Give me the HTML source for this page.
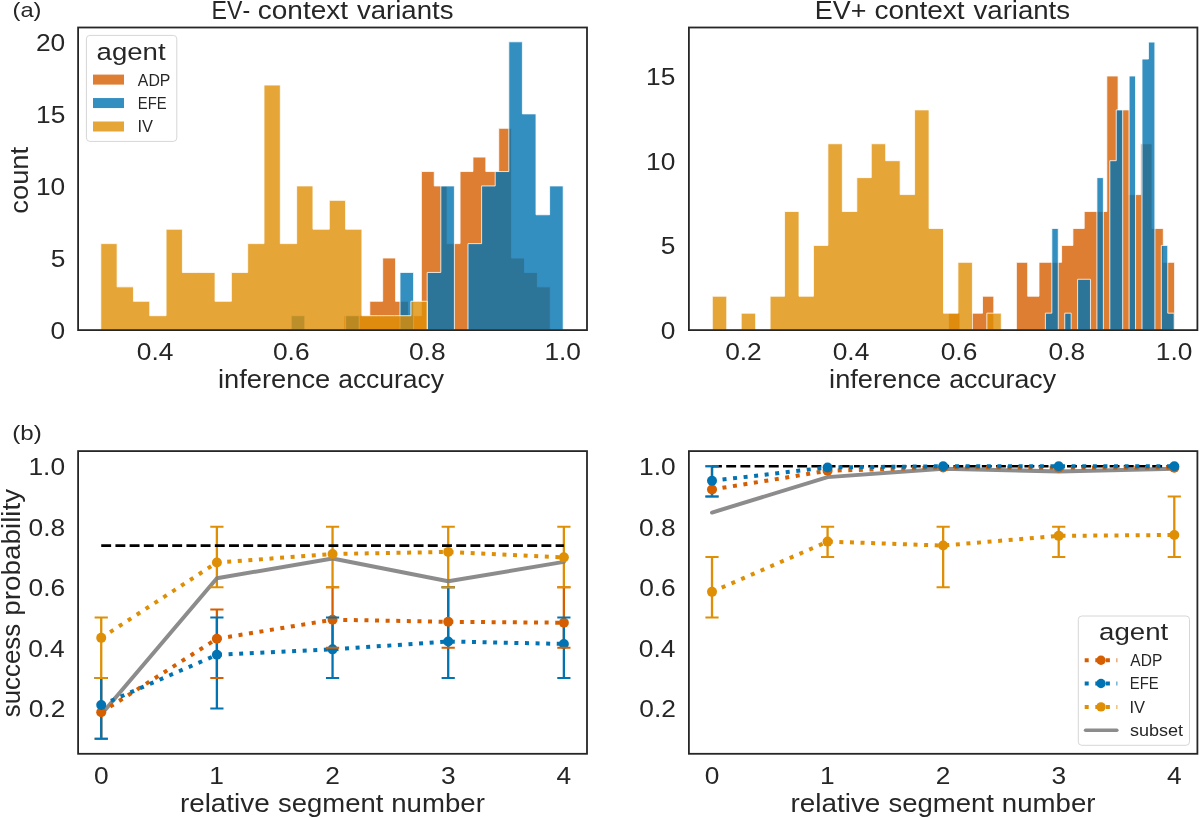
<!DOCTYPE html>
<html><head><meta charset="utf-8"><style>
html,body{margin:0;padding:0;background:#fff;}
svg{display:block;}
text{font-family:"Liberation Sans", sans-serif;font-kerning:none;}
</style></head><body>
<svg width="1200" height="818" viewBox="0 0 1200 818">
<rect width="1200" height="818" fill="#fff"/>
<defs>
<clipPath id="c1"><rect x="78.1" y="27.5" width="508.90" height="302.60"/></clipPath>
<clipPath id="c2"><rect x="688.9" y="27.5" width="508.50" height="302.60"/></clipPath>
<clipPath id="c3"><rect x="78.1" y="451.1" width="508.90" height="302.70"/></clipPath>
<clipPath id="c4"><rect x="688.9" y="451.1" width="508.50" height="302.70"/></clipPath>
</defs>
<g clip-path="url(#c1)">
<path d="M344.00,330.10 L344.00,315.69 L356.89,315.69 L356.89,315.69 L369.79,315.69 L369.79,301.27 L382.68,301.27 L382.68,258.03 L395.58,258.03 L395.58,301.27 L408.47,301.27 L408.47,315.69 L421.36,315.69 L421.36,171.54 L434.26,171.54 L434.26,185.95 L447.15,185.95 L447.15,243.61 L460.05,243.61 L460.05,171.54 L472.94,171.54 L472.94,157.12 L485.83,157.12 L485.83,171.54 L498.73,171.54 L498.73,128.29 L511.62,128.29 L511.62,258.03 L524.52,258.03 L524.52,272.44 L537.41,272.44 L537.41,286.86 L550.30,286.86 L550.30,330.10Z" fill="#d55e00" fill-opacity="0.8" stroke="none"/>
<path d="M344.00,330.10 L344.00,315.69 L356.89,315.69 L356.89,315.69 L369.79,315.69 L369.79,301.27 L382.68,301.27 L382.68,258.03 L395.58,258.03 L395.58,301.27 L408.47,301.27 L408.47,315.69 L421.36,315.69 L421.36,171.54 L434.26,171.54 L434.26,185.95 L447.15,185.95 L447.15,243.61 L460.05,243.61 L460.05,171.54 L472.94,171.54 L472.94,157.12 L485.83,157.12 L485.83,171.54 L498.73,171.54 L498.73,128.29 L511.62,128.29 L511.62,258.03 L524.52,258.03 L524.52,272.44 L537.41,272.44 L537.41,286.86 L550.30,286.86 L550.30,330.10Z" fill="none" stroke="#fff" stroke-opacity="0.8" stroke-width="1.0"/>
<path d="M291.20,330.10 L291.20,315.69 L304.80,315.69 L304.80,330.10Z" fill="#0173b2" fill-opacity="0.8" stroke="none"/>
<path d="M291.20,330.10 L291.20,315.69 L304.80,315.69 L304.80,330.10Z" fill="none" stroke="#fff" stroke-opacity="0.8" stroke-width="1.0"/>
<path d="M345.60,330.10 L345.60,315.69 L359.20,315.69 L359.20,330.10Z" fill="#0173b2" fill-opacity="0.8" stroke="none"/>
<path d="M345.60,330.10 L345.60,315.69 L359.20,315.69 L359.20,330.10Z" fill="none" stroke="#fff" stroke-opacity="0.8" stroke-width="1.0"/>
<path d="M400.00,330.10 L400.00,272.44 L413.60,272.44 L413.60,330.10Z" fill="#0173b2" fill-opacity="0.8" stroke="none"/>
<path d="M400.00,330.10 L400.00,272.44 L413.60,272.44 L413.60,330.10Z" fill="none" stroke="#fff" stroke-opacity="0.8" stroke-width="1.0"/>
<path d="M427.20,330.10 L427.20,272.44 L440.80,272.44 L440.80,185.95 L454.40,185.95 L454.40,330.10Z" fill="#0173b2" fill-opacity="0.8" stroke="none"/>
<path d="M427.20,330.10 L427.20,272.44 L440.80,272.44 L440.80,185.95 L454.40,185.95 L454.40,330.10Z" fill="none" stroke="#fff" stroke-opacity="0.8" stroke-width="1.0"/>
<path d="M468.00,330.10 L468.00,243.61 L481.60,243.61 L481.60,185.95 L495.20,185.95 L495.20,171.54 L508.80,171.54 L508.80,41.80 L522.40,41.80 L522.40,113.88 L536.00,113.88 L536.00,214.78 L549.60,214.78 L549.60,185.95 L563.20,185.95 L563.20,330.10Z" fill="#0173b2" fill-opacity="0.8" stroke="none"/>
<path d="M468.00,330.10 L468.00,243.61 L481.60,243.61 L481.60,185.95 L495.20,185.95 L495.20,171.54 L508.80,171.54 L508.80,41.80 L522.40,41.80 L522.40,113.88 L536.00,113.88 L536.00,214.78 L549.60,214.78 L549.60,185.95 L563.20,185.95 L563.20,330.10Z" fill="none" stroke="#fff" stroke-opacity="0.8" stroke-width="1.0"/>
<path d="M100.80,330.10 L100.80,243.61 L117.12,243.61 L117.12,286.86 L133.44,286.86 L133.44,301.27 L149.76,301.27 L149.76,315.69 L166.08,315.69 L166.08,229.20 L182.40,229.20 L182.40,272.44 L198.72,272.44 L198.72,272.44 L215.04,272.44 L215.04,301.27 L231.36,301.27 L231.36,272.44 L247.68,272.44 L247.68,243.61 L264.00,243.61 L264.00,85.05 L280.32,85.05 L280.32,243.61 L296.64,243.61 L296.64,185.95 L312.96,185.95 L312.96,229.20 L329.28,229.20 L329.28,200.37 L345.60,200.37 L345.60,229.20 L361.92,229.20 L361.92,315.69 L378.24,315.69 L378.24,315.69 L394.56,315.69 L394.56,315.69 L410.88,315.69 L410.88,301.27 L427.20,301.27 L427.20,330.10Z" fill="#de8f05" fill-opacity="0.8" stroke="none"/>
<path d="M100.80,330.10 L100.80,243.61 L117.12,243.61 L117.12,286.86 L133.44,286.86 L133.44,301.27 L149.76,301.27 L149.76,315.69 L166.08,315.69 L166.08,229.20 L182.40,229.20 L182.40,272.44 L198.72,272.44 L198.72,272.44 L215.04,272.44 L215.04,301.27 L231.36,301.27 L231.36,272.44 L247.68,272.44 L247.68,243.61 L264.00,243.61 L264.00,85.05 L280.32,85.05 L280.32,243.61 L296.64,243.61 L296.64,185.95 L312.96,185.95 L312.96,229.20 L329.28,229.20 L329.28,200.37 L345.60,200.37 L345.60,229.20 L361.92,229.20 L361.92,315.69 L378.24,315.69 L378.24,315.69 L394.56,315.69 L394.56,315.69 L410.88,315.69 L410.88,301.27 L427.20,301.27 L427.20,330.10Z" fill="none" stroke="#fff" stroke-opacity="0.8" stroke-width="1.0"/>
</g>
<g clip-path="url(#c2)">
<path d="M948.60,330.10 L948.60,313.16 L959.90,313.16 L959.90,330.10Z" fill="#d55e00" fill-opacity="0.8" stroke="none"/>
<path d="M948.60,330.10 L948.60,313.16 L959.90,313.16 L959.90,330.10Z" fill="none" stroke="#fff" stroke-opacity="0.8" stroke-width="1.0"/>
<path d="M971.20,330.10 L971.20,313.16 L982.50,313.16 L982.50,296.22 L993.80,296.22 L993.80,330.10Z" fill="#d55e00" fill-opacity="0.8" stroke="none"/>
<path d="M971.20,330.10 L971.20,313.16 L982.50,313.16 L982.50,296.22 L993.80,296.22 L993.80,330.10Z" fill="none" stroke="#fff" stroke-opacity="0.8" stroke-width="1.0"/>
<path d="M1016.40,330.10 L1016.40,262.34 L1027.70,262.34 L1027.70,296.22 L1039.00,296.22 L1039.00,262.34 L1050.30,262.34 L1050.30,262.34 L1061.60,262.34 L1061.60,245.40 L1072.90,245.40 L1072.90,228.46 L1084.20,228.46 L1084.20,211.52 L1095.50,211.52 L1095.50,211.52 L1106.80,211.52 L1106.80,76.00 L1118.10,76.00 L1118.10,109.88 L1129.40,109.88 L1129.40,194.58 L1140.70,194.58 L1140.70,143.76 L1152.00,143.76 L1152.00,228.46 L1163.30,228.46 L1163.30,262.34 L1174.60,262.34 L1174.60,330.10Z" fill="#d55e00" fill-opacity="0.8" stroke="none"/>
<path d="M1016.40,330.10 L1016.40,262.34 L1027.70,262.34 L1027.70,296.22 L1039.00,296.22 L1039.00,262.34 L1050.30,262.34 L1050.30,262.34 L1061.60,262.34 L1061.60,245.40 L1072.90,245.40 L1072.90,228.46 L1084.20,228.46 L1084.20,211.52 L1095.50,211.52 L1095.50,211.52 L1106.80,211.52 L1106.80,76.00 L1118.10,76.00 L1118.10,109.88 L1129.40,109.88 L1129.40,194.58 L1140.70,194.58 L1140.70,143.76 L1152.00,143.76 L1152.00,228.46 L1163.30,228.46 L1163.30,262.34 L1174.60,262.34 L1174.60,330.10Z" fill="none" stroke="#fff" stroke-opacity="0.8" stroke-width="1.0"/>
<path d="M1045.40,330.10 L1045.40,313.16 L1051.84,313.16 L1051.84,228.46 L1058.28,228.46 L1058.28,330.10Z" fill="#0173b2" fill-opacity="0.8" stroke="none"/>
<path d="M1045.40,330.10 L1045.40,313.16 L1051.84,313.16 L1051.84,228.46 L1058.28,228.46 L1058.28,330.10Z" fill="none" stroke="#fff" stroke-opacity="0.8" stroke-width="1.0"/>
<path d="M1064.72,330.10 L1064.72,313.16 L1071.16,313.16 L1071.16,330.10Z" fill="#0173b2" fill-opacity="0.8" stroke="none"/>
<path d="M1064.72,330.10 L1064.72,313.16 L1071.16,313.16 L1071.16,330.10Z" fill="none" stroke="#fff" stroke-opacity="0.8" stroke-width="1.0"/>
<path d="M1077.60,330.10 L1077.60,279.28 L1084.04,279.28 L1084.04,279.28 L1090.48,279.28 L1090.48,330.10Z" fill="#0173b2" fill-opacity="0.8" stroke="none"/>
<path d="M1077.60,330.10 L1077.60,279.28 L1084.04,279.28 L1084.04,279.28 L1090.48,279.28 L1090.48,330.10Z" fill="none" stroke="#fff" stroke-opacity="0.8" stroke-width="1.0"/>
<path d="M1096.92,330.10 L1096.92,177.64 L1103.36,177.64 L1103.36,330.10Z" fill="#0173b2" fill-opacity="0.8" stroke="none"/>
<path d="M1096.92,330.10 L1096.92,177.64 L1103.36,177.64 L1103.36,330.10Z" fill="none" stroke="#fff" stroke-opacity="0.8" stroke-width="1.0"/>
<path d="M1109.80,330.10 L1109.80,160.70 L1116.24,160.70 L1116.24,109.88 L1122.68,109.88 L1122.68,330.10Z" fill="#0173b2" fill-opacity="0.8" stroke="none"/>
<path d="M1109.80,330.10 L1109.80,160.70 L1116.24,160.70 L1116.24,109.88 L1122.68,109.88 L1122.68,330.10Z" fill="none" stroke="#fff" stroke-opacity="0.8" stroke-width="1.0"/>
<path d="M1129.12,330.10 L1129.12,76.00 L1135.56,76.00 L1135.56,330.10Z" fill="#0173b2" fill-opacity="0.8" stroke="none"/>
<path d="M1129.12,330.10 L1129.12,76.00 L1135.56,76.00 L1135.56,330.10Z" fill="none" stroke="#fff" stroke-opacity="0.8" stroke-width="1.0"/>
<path d="M1142.00,330.10 L1142.00,59.06 L1148.44,59.06 L1148.44,42.12 L1154.88,42.12 L1154.88,330.10Z" fill="#0173b2" fill-opacity="0.8" stroke="none"/>
<path d="M1142.00,330.10 L1142.00,59.06 L1148.44,59.06 L1148.44,42.12 L1154.88,42.12 L1154.88,330.10Z" fill="none" stroke="#fff" stroke-opacity="0.8" stroke-width="1.0"/>
<path d="M1161.32,330.10 L1161.32,245.40 L1167.76,245.40 L1167.76,313.16 L1174.20,313.16 L1174.20,330.10Z" fill="#0173b2" fill-opacity="0.8" stroke="none"/>
<path d="M1161.32,330.10 L1161.32,245.40 L1167.76,245.40 L1167.76,313.16 L1174.20,313.16 L1174.20,330.10Z" fill="none" stroke="#fff" stroke-opacity="0.8" stroke-width="1.0"/>
<path d="M712.30,330.10 L712.30,296.22 L726.75,296.22 L726.75,330.10Z" fill="#de8f05" fill-opacity="0.8" stroke="none"/>
<path d="M712.30,330.10 L712.30,296.22 L726.75,296.22 L726.75,330.10Z" fill="none" stroke="#fff" stroke-opacity="0.8" stroke-width="1.0"/>
<path d="M741.20,330.10 L741.20,313.16 L755.65,313.16 L755.65,330.10Z" fill="#de8f05" fill-opacity="0.8" stroke="none"/>
<path d="M741.20,330.10 L741.20,313.16 L755.65,313.16 L755.65,330.10Z" fill="none" stroke="#fff" stroke-opacity="0.8" stroke-width="1.0"/>
<path d="M770.10,330.10 L770.10,296.22 L784.55,296.22 L784.55,211.52 L799.00,211.52 L799.00,296.22 L813.45,296.22 L813.45,245.40 L827.90,245.40 L827.90,143.76 L842.35,143.76 L842.35,211.52 L856.80,211.52 L856.80,177.64 L871.25,177.64 L871.25,143.76 L885.70,143.76 L885.70,160.70 L900.15,160.70 L900.15,194.58 L914.60,194.58 L914.60,109.88 L929.05,109.88 L929.05,228.46 L943.50,228.46 L943.50,313.16 L957.95,313.16 L957.95,262.34 L972.40,262.34 L972.40,330.10Z" fill="#de8f05" fill-opacity="0.8" stroke="none"/>
<path d="M770.10,330.10 L770.10,296.22 L784.55,296.22 L784.55,211.52 L799.00,211.52 L799.00,296.22 L813.45,296.22 L813.45,245.40 L827.90,245.40 L827.90,143.76 L842.35,143.76 L842.35,211.52 L856.80,211.52 L856.80,177.64 L871.25,177.64 L871.25,143.76 L885.70,143.76 L885.70,160.70 L900.15,160.70 L900.15,194.58 L914.60,194.58 L914.60,109.88 L929.05,109.88 L929.05,228.46 L943.50,228.46 L943.50,313.16 L957.95,313.16 L957.95,262.34 L972.40,262.34 L972.40,330.10Z" fill="none" stroke="#fff" stroke-opacity="0.8" stroke-width="1.0"/>
<path d="M986.85,330.10 L986.85,313.16 L1001.30,313.16 L1001.30,330.10Z" fill="#de8f05" fill-opacity="0.8" stroke="none"/>
<path d="M986.85,330.10 L986.85,313.16 L1001.30,313.16 L1001.30,330.10Z" fill="none" stroke="#fff" stroke-opacity="0.8" stroke-width="1.0"/>
</g>
<g clip-path="url(#c3)">
<line x1="101.23" y1="678.12" x2="101.23" y2="738.66" stroke="#d55e00" stroke-width="2.3"/>
<line x1="216.89" y1="609.41" x2="216.89" y2="678.12" stroke="#d55e00" stroke-width="2.3"/>
<line x1="332.55" y1="587.32" x2="332.55" y2="647.86" stroke="#d55e00" stroke-width="2.3"/>
<line x1="448.21" y1="587.32" x2="448.21" y2="647.86" stroke="#d55e00" stroke-width="2.3"/>
<line x1="563.87" y1="587.32" x2="563.87" y2="647.86" stroke="#d55e00" stroke-width="2.3"/>
<line x1="101.23" y1="678.12" x2="101.23" y2="738.66" stroke="#0173b2" stroke-width="2.3"/>
<line x1="216.89" y1="617.59" x2="216.89" y2="708.39" stroke="#0173b2" stroke-width="2.3"/>
<line x1="332.55" y1="617.59" x2="332.55" y2="678.12" stroke="#0173b2" stroke-width="2.3"/>
<line x1="448.21" y1="587.32" x2="448.21" y2="678.12" stroke="#0173b2" stroke-width="2.3"/>
<line x1="563.87" y1="617.59" x2="563.87" y2="678.12" stroke="#0173b2" stroke-width="2.3"/>
<line x1="101.23" y1="617.59" x2="101.23" y2="678.12" stroke="#de8f05" stroke-width="2.3"/>
<line x1="216.89" y1="526.77" x2="216.89" y2="587.32" stroke="#de8f05" stroke-width="2.3"/>
<line x1="332.55" y1="526.77" x2="332.55" y2="587.32" stroke="#de8f05" stroke-width="2.3"/>
<line x1="448.21" y1="526.77" x2="448.21" y2="587.32" stroke="#de8f05" stroke-width="2.3"/>
<line x1="563.87" y1="526.77" x2="563.87" y2="587.32" stroke="#de8f05" stroke-width="2.3"/>
<path d="M101.23,714.45 L216.89,578.23 L332.55,558.56 L448.21,581.26 L563.87,561.89" fill="none" stroke="#808080" stroke-opacity="0.9" stroke-width="4.0" stroke-linecap="round" stroke-linejoin="round"/>
<line x1="101.23" y1="545.54" x2="563.87" y2="545.54" stroke="#000" stroke-width="2.7" stroke-dasharray="9.9 4.3"/>
<path d="M101.23,712.33 L216.89,638.77 L332.55,619.70 L448.21,621.82 L563.87,622.73" fill="none" stroke="#d55e00" stroke-width="4.0" stroke-dasharray="4.00 6.60" stroke-linecap="butt" stroke-linejoin="round"/>
<circle cx="101.23" cy="712.33" r="5.0" fill="#d55e00"/>
<circle cx="216.89" cy="638.77" r="5.0" fill="#d55e00"/>
<circle cx="332.55" cy="619.70" r="5.0" fill="#d55e00"/>
<circle cx="448.21" cy="621.82" r="5.0" fill="#d55e00"/>
<circle cx="563.87" cy="622.73" r="5.0" fill="#d55e00"/>
<path d="M101.23,705.07 L216.89,654.82 L332.55,649.37 L448.21,641.50 L563.87,643.92" fill="none" stroke="#0173b2" stroke-width="4.0" stroke-dasharray="4.00 6.60" stroke-linecap="butt" stroke-linejoin="round"/>
<circle cx="101.23" cy="705.07" r="5.0" fill="#0173b2"/>
<circle cx="216.89" cy="654.82" r="5.0" fill="#0173b2"/>
<circle cx="332.55" cy="649.37" r="5.0" fill="#0173b2"/>
<circle cx="448.21" cy="641.50" r="5.0" fill="#0173b2"/>
<circle cx="563.87" cy="643.92" r="5.0" fill="#0173b2"/>
<path d="M101.23,637.87 L216.89,562.49 L332.55,554.02 L448.21,551.90 L563.87,557.35" fill="none" stroke="#de8f05" stroke-width="4.0" stroke-dasharray="4.00 6.60" stroke-linecap="butt" stroke-linejoin="round"/>
<circle cx="101.23" cy="637.87" r="5.0" fill="#de8f05"/>
<circle cx="216.89" cy="562.49" r="5.0" fill="#de8f05"/>
<circle cx="332.55" cy="554.02" r="5.0" fill="#de8f05"/>
<circle cx="448.21" cy="551.90" r="5.0" fill="#de8f05"/>
<circle cx="563.87" cy="557.35" r="5.0" fill="#de8f05"/>
<line x1="94.63" y1="678.12" x2="107.83" y2="678.12" stroke="#d55e00" stroke-width="2.0"/>
<line x1="94.63" y1="738.66" x2="107.83" y2="738.66" stroke="#d55e00" stroke-width="2.0"/>
<line x1="210.29" y1="609.41" x2="223.49" y2="609.41" stroke="#d55e00" stroke-width="2.0"/>
<line x1="210.29" y1="678.12" x2="223.49" y2="678.12" stroke="#d55e00" stroke-width="2.0"/>
<line x1="325.95" y1="587.32" x2="339.15" y2="587.32" stroke="#d55e00" stroke-width="2.0"/>
<line x1="325.95" y1="647.86" x2="339.15" y2="647.86" stroke="#d55e00" stroke-width="2.0"/>
<line x1="441.61" y1="587.32" x2="454.81" y2="587.32" stroke="#d55e00" stroke-width="2.0"/>
<line x1="441.61" y1="647.86" x2="454.81" y2="647.86" stroke="#d55e00" stroke-width="2.0"/>
<line x1="557.27" y1="587.32" x2="570.47" y2="587.32" stroke="#d55e00" stroke-width="2.0"/>
<line x1="557.27" y1="647.86" x2="570.47" y2="647.86" stroke="#d55e00" stroke-width="2.0"/>
<line x1="94.63" y1="678.12" x2="107.83" y2="678.12" stroke="#0173b2" stroke-width="2.0"/>
<line x1="94.63" y1="738.66" x2="107.83" y2="738.66" stroke="#0173b2" stroke-width="2.0"/>
<line x1="210.29" y1="617.59" x2="223.49" y2="617.59" stroke="#0173b2" stroke-width="2.0"/>
<line x1="210.29" y1="708.39" x2="223.49" y2="708.39" stroke="#0173b2" stroke-width="2.0"/>
<line x1="325.95" y1="617.59" x2="339.15" y2="617.59" stroke="#0173b2" stroke-width="2.0"/>
<line x1="325.95" y1="678.12" x2="339.15" y2="678.12" stroke="#0173b2" stroke-width="2.0"/>
<line x1="441.61" y1="587.32" x2="454.81" y2="587.32" stroke="#0173b2" stroke-width="2.0"/>
<line x1="441.61" y1="678.12" x2="454.81" y2="678.12" stroke="#0173b2" stroke-width="2.0"/>
<line x1="557.27" y1="617.59" x2="570.47" y2="617.59" stroke="#0173b2" stroke-width="2.0"/>
<line x1="557.27" y1="678.12" x2="570.47" y2="678.12" stroke="#0173b2" stroke-width="2.0"/>
<line x1="94.63" y1="617.59" x2="107.83" y2="617.59" stroke="#de8f05" stroke-width="2.0"/>
<line x1="94.63" y1="678.12" x2="107.83" y2="678.12" stroke="#de8f05" stroke-width="2.0"/>
<line x1="210.29" y1="526.77" x2="223.49" y2="526.77" stroke="#de8f05" stroke-width="2.0"/>
<line x1="210.29" y1="587.32" x2="223.49" y2="587.32" stroke="#de8f05" stroke-width="2.0"/>
<line x1="325.95" y1="526.77" x2="339.15" y2="526.77" stroke="#de8f05" stroke-width="2.0"/>
<line x1="325.95" y1="587.32" x2="339.15" y2="587.32" stroke="#de8f05" stroke-width="2.0"/>
<line x1="441.61" y1="526.77" x2="454.81" y2="526.77" stroke="#de8f05" stroke-width="2.0"/>
<line x1="441.61" y1="587.32" x2="454.81" y2="587.32" stroke="#de8f05" stroke-width="2.0"/>
<line x1="557.27" y1="526.77" x2="570.47" y2="526.77" stroke="#de8f05" stroke-width="2.0"/>
<line x1="557.27" y1="587.32" x2="570.47" y2="587.32" stroke="#de8f05" stroke-width="2.0"/>
</g>
<g clip-path="url(#c4)">
<line x1="712.01" y1="466.24" x2="712.01" y2="496.51" stroke="#d55e00" stroke-width="2.3"/>
<line x1="712.01" y1="466.24" x2="712.01" y2="496.51" stroke="#0173b2" stroke-width="2.3"/>
<line x1="712.01" y1="557.05" x2="712.01" y2="617.59" stroke="#de8f05" stroke-width="2.3"/>
<line x1="827.58" y1="526.77" x2="827.58" y2="557.05" stroke="#de8f05" stroke-width="2.3"/>
<line x1="943.15" y1="526.77" x2="943.15" y2="587.32" stroke="#de8f05" stroke-width="2.3"/>
<line x1="1058.72" y1="526.77" x2="1058.72" y2="557.05" stroke="#de8f05" stroke-width="2.3"/>
<line x1="1174.29" y1="496.51" x2="1174.29" y2="557.05" stroke="#de8f05" stroke-width="2.3"/>
<path d="M712.01,512.55 L827.58,477.13 L943.15,468.66 L1058.72,471.38 L1174.29,468.66" fill="none" stroke="#808080" stroke-opacity="0.9" stroke-width="4.0" stroke-linecap="round" stroke-linejoin="round"/>
<line x1="712.01" y1="466.24" x2="1174.29" y2="466.24" stroke="#000" stroke-width="2.7" stroke-dasharray="9.9 4.3"/>
<path d="M712.01,489.54 L827.58,470.78 L943.15,467.45 L1058.72,467.75 L1174.29,467.75" fill="none" stroke="#d55e00" stroke-width="4.0" stroke-dasharray="4.00 6.60" stroke-linecap="butt" stroke-linejoin="round"/>
<circle cx="712.01" cy="489.54" r="5.0" fill="#d55e00"/>
<circle cx="827.58" cy="470.78" r="5.0" fill="#d55e00"/>
<circle cx="943.15" cy="467.45" r="5.0" fill="#d55e00"/>
<circle cx="1058.72" cy="467.75" r="5.0" fill="#d55e00"/>
<circle cx="1174.29" cy="467.75" r="5.0" fill="#d55e00"/>
<path d="M712.01,480.76 L827.58,467.45 L943.15,466.24 L1058.72,466.24 L1174.29,466.24" fill="none" stroke="#0173b2" stroke-width="4.0" stroke-dasharray="4.00 6.60" stroke-linecap="butt" stroke-linejoin="round"/>
<circle cx="712.01" cy="480.76" r="5.0" fill="#0173b2"/>
<circle cx="827.58" cy="467.45" r="5.0" fill="#0173b2"/>
<circle cx="943.15" cy="466.24" r="5.0" fill="#0173b2"/>
<circle cx="1058.72" cy="466.24" r="5.0" fill="#0173b2"/>
<circle cx="1174.29" cy="466.24" r="5.0" fill="#0173b2"/>
<path d="M712.01,591.86 L827.58,541.61 L943.15,545.54 L1058.72,535.86 L1174.29,534.95" fill="none" stroke="#de8f05" stroke-width="4.0" stroke-dasharray="4.00 6.60" stroke-linecap="butt" stroke-linejoin="round"/>
<circle cx="712.01" cy="591.86" r="5.0" fill="#de8f05"/>
<circle cx="827.58" cy="541.61" r="5.0" fill="#de8f05"/>
<circle cx="943.15" cy="545.54" r="5.0" fill="#de8f05"/>
<circle cx="1058.72" cy="535.86" r="5.0" fill="#de8f05"/>
<circle cx="1174.29" cy="534.95" r="5.0" fill="#de8f05"/>
<line x1="705.41" y1="466.24" x2="718.61" y2="466.24" stroke="#d55e00" stroke-width="2.0"/>
<line x1="705.41" y1="496.51" x2="718.61" y2="496.51" stroke="#d55e00" stroke-width="2.0"/>
<line x1="705.41" y1="466.24" x2="718.61" y2="466.24" stroke="#0173b2" stroke-width="2.0"/>
<line x1="705.41" y1="496.51" x2="718.61" y2="496.51" stroke="#0173b2" stroke-width="2.0"/>
<line x1="705.41" y1="557.05" x2="718.61" y2="557.05" stroke="#de8f05" stroke-width="2.0"/>
<line x1="705.41" y1="617.59" x2="718.61" y2="617.59" stroke="#de8f05" stroke-width="2.0"/>
<line x1="820.98" y1="526.77" x2="834.18" y2="526.77" stroke="#de8f05" stroke-width="2.0"/>
<line x1="820.98" y1="557.05" x2="834.18" y2="557.05" stroke="#de8f05" stroke-width="2.0"/>
<line x1="936.55" y1="526.77" x2="949.75" y2="526.77" stroke="#de8f05" stroke-width="2.0"/>
<line x1="936.55" y1="587.32" x2="949.75" y2="587.32" stroke="#de8f05" stroke-width="2.0"/>
<line x1="1052.12" y1="526.77" x2="1065.32" y2="526.77" stroke="#de8f05" stroke-width="2.0"/>
<line x1="1052.12" y1="557.05" x2="1065.32" y2="557.05" stroke="#de8f05" stroke-width="2.0"/>
<line x1="1167.69" y1="496.51" x2="1180.89" y2="496.51" stroke="#de8f05" stroke-width="2.0"/>
<line x1="1167.69" y1="557.05" x2="1180.89" y2="557.05" stroke="#de8f05" stroke-width="2.0"/>
</g>
<rect x="78.1" y="27.5" width="508.90" height="302.60" fill="none" stroke="#262626" stroke-width="1.8"/>
<rect x="688.9" y="27.5" width="508.50" height="302.60" fill="none" stroke="#262626" stroke-width="1.8"/>
<rect x="78.1" y="451.1" width="508.90" height="302.70" fill="none" stroke="#262626" stroke-width="1.8"/>
<rect x="688.9" y="451.1" width="508.50" height="302.70" fill="none" stroke="#262626" stroke-width="1.8"/>
<g style="will-change:transform">
<text x="12.53" y="16.50" font-size="20.7" textLength="28.94" lengthAdjust="spacingAndGlyphs" fill="#262626" >(a)</text>
<text x="12.25" y="440.00" font-size="20.7" textLength="29.49" lengthAdjust="spacingAndGlyphs" fill="#262626" >(b)</text>
<text x="211.60" y="19.25" font-size="25.1" textLength="38.63" lengthAdjust="spacingAndGlyphs" fill="#262626" >EV-</text>
<text x="257.81" y="19.25" font-size="25.1" textLength="90.19" lengthAdjust="spacingAndGlyphs" fill="#262626" >context</text>
<text x="356.91" y="19.25" font-size="25.1" textLength="96.59" lengthAdjust="spacingAndGlyphs" fill="#262626" >variants</text>
<text x="814.80" y="19.25" font-size="25.1" textLength="51.53" lengthAdjust="spacingAndGlyphs" fill="#262626" >EV+</text>
<text x="874.41" y="19.25" font-size="25.1" textLength="90.19" lengthAdjust="spacingAndGlyphs" fill="#262626" >context</text>
<text x="973.51" y="19.25" font-size="25.1" textLength="96.59" lengthAdjust="spacingAndGlyphs" fill="#262626" >variants</text>
<text x="50.59" y="339.00" font-size="23.3" textLength="14.64" lengthAdjust="spacingAndGlyphs" fill="#262626" >0</text>
<text x="50.66" y="266.93" font-size="23.3" textLength="14.64" lengthAdjust="spacingAndGlyphs" fill="#262626" >5</text>
<text x="35.94" y="194.85" font-size="23.3" textLength="29.29" lengthAdjust="spacingAndGlyphs" fill="#262626" >10</text>
<text x="36.02" y="122.78" font-size="23.3" textLength="29.29" lengthAdjust="spacingAndGlyphs" fill="#262626" >15</text>
<text x="35.94" y="50.70" font-size="23.3" textLength="29.29" lengthAdjust="spacingAndGlyphs" fill="#262626" >20</text>
<text x="136.77" y="359.80" font-size="23.3" textLength="36.60" lengthAdjust="spacingAndGlyphs" fill="#262626" >0.4</text>
<text x="272.96" y="359.80" font-size="23.3" textLength="36.60" lengthAdjust="spacingAndGlyphs" fill="#262626" >0.6</text>
<text x="408.96" y="359.80" font-size="23.3" textLength="36.60" lengthAdjust="spacingAndGlyphs" fill="#262626" >0.8</text>
<text x="544.41" y="359.80" font-size="23.3" textLength="36.60" lengthAdjust="spacingAndGlyphs" fill="#262626" >1.0</text>
<text x="218.03" y="387.90" font-size="25.3" textLength="112.19" lengthAdjust="spacingAndGlyphs" fill="#262626" >inference</text>
<text x="338.18" y="387.90" font-size="25.3" textLength="105.88" lengthAdjust="spacingAndGlyphs" fill="#262626" >accuracy</text>
<text transform="translate(28.00,212.50) rotate(-90)" x="-1.16" y="0" font-size="25.3" textLength="66.76" lengthAdjust="spacingAndGlyphs" fill="#262626">count</text>
<text x="660.69" y="339.00" font-size="23.3" textLength="14.64" lengthAdjust="spacingAndGlyphs" fill="#262626" >0</text>
<text x="660.76" y="254.30" font-size="23.3" textLength="14.64" lengthAdjust="spacingAndGlyphs" fill="#262626" >5</text>
<text x="646.04" y="169.60" font-size="23.3" textLength="29.29" lengthAdjust="spacingAndGlyphs" fill="#262626" >10</text>
<text x="646.12" y="84.90" font-size="23.3" textLength="29.29" lengthAdjust="spacingAndGlyphs" fill="#262626" >15</text>
<text x="725.15" y="359.80" font-size="23.3" textLength="36.60" lengthAdjust="spacingAndGlyphs" fill="#262626" >0.2</text>
<text x="832.69" y="359.80" font-size="23.3" textLength="36.60" lengthAdjust="spacingAndGlyphs" fill="#262626" >0.4</text>
<text x="940.70" y="359.80" font-size="23.3" textLength="36.60" lengthAdjust="spacingAndGlyphs" fill="#262626" >0.6</text>
<text x="1048.52" y="359.80" font-size="23.3" textLength="36.60" lengthAdjust="spacingAndGlyphs" fill="#262626" >0.8</text>
<text x="1155.79" y="359.80" font-size="23.3" textLength="36.60" lengthAdjust="spacingAndGlyphs" fill="#262626" >1.0</text>
<text x="829.08" y="387.90" font-size="25.3" textLength="112.13" lengthAdjust="spacingAndGlyphs" fill="#262626" >inference</text>
<text x="949.17" y="387.90" font-size="25.3" textLength="106.89" lengthAdjust="spacingAndGlyphs" fill="#262626" >accuracy</text>
<text x="28.72" y="717.29" font-size="23.3" textLength="36.60" lengthAdjust="spacingAndGlyphs" fill="#262626" >0.2</text>
<text x="639.32" y="717.29" font-size="23.3" textLength="36.60" lengthAdjust="spacingAndGlyphs" fill="#262626" >0.2</text>
<text x="28.17" y="656.75" font-size="23.3" textLength="36.60" lengthAdjust="spacingAndGlyphs" fill="#262626" >0.4</text>
<text x="638.77" y="656.75" font-size="23.3" textLength="36.60" lengthAdjust="spacingAndGlyphs" fill="#262626" >0.4</text>
<text x="28.56" y="596.22" font-size="23.3" textLength="36.60" lengthAdjust="spacingAndGlyphs" fill="#262626" >0.6</text>
<text x="639.16" y="596.22" font-size="23.3" textLength="36.60" lengthAdjust="spacingAndGlyphs" fill="#262626" >0.6</text>
<text x="28.54" y="535.67" font-size="23.3" textLength="36.60" lengthAdjust="spacingAndGlyphs" fill="#262626" >0.8</text>
<text x="639.14" y="535.67" font-size="23.3" textLength="36.60" lengthAdjust="spacingAndGlyphs" fill="#262626" >0.8</text>
<text x="28.43" y="475.13" font-size="23.3" textLength="36.60" lengthAdjust="spacingAndGlyphs" fill="#262626" >1.0</text>
<text x="639.03" y="475.13" font-size="23.3" textLength="36.60" lengthAdjust="spacingAndGlyphs" fill="#262626" >1.0</text>
<text x="93.91" y="783.50" font-size="23.3" textLength="14.64" lengthAdjust="spacingAndGlyphs" fill="#262626" >0</text>
<text x="704.69" y="783.50" font-size="23.3" textLength="14.64" lengthAdjust="spacingAndGlyphs" fill="#262626" >0</text>
<text x="209.21" y="783.50" font-size="23.3" textLength="14.64" lengthAdjust="spacingAndGlyphs" fill="#262626" >1</text>
<text x="819.90" y="783.50" font-size="23.3" textLength="14.64" lengthAdjust="spacingAndGlyphs" fill="#262626" >1</text>
<text x="325.23" y="783.50" font-size="23.3" textLength="14.64" lengthAdjust="spacingAndGlyphs" fill="#262626" >2</text>
<text x="935.83" y="783.50" font-size="23.3" textLength="14.64" lengthAdjust="spacingAndGlyphs" fill="#262626" >2</text>
<text x="440.97" y="783.50" font-size="23.3" textLength="14.64" lengthAdjust="spacingAndGlyphs" fill="#262626" >3</text>
<text x="1051.48" y="783.50" font-size="23.3" textLength="14.64" lengthAdjust="spacingAndGlyphs" fill="#262626" >3</text>
<text x="556.63" y="783.50" font-size="23.3" textLength="14.64" lengthAdjust="spacingAndGlyphs" fill="#262626" >4</text>
<text x="1167.06" y="783.50" font-size="23.3" textLength="14.64" lengthAdjust="spacingAndGlyphs" fill="#262626" >4</text>
<text x="179.90" y="811.60" font-size="25.3" textLength="89.84" lengthAdjust="spacingAndGlyphs" fill="#262626" >relative</text>
<text x="277.99" y="811.60" font-size="25.3" textLength="105.32" lengthAdjust="spacingAndGlyphs" fill="#262626" >segment</text>
<text x="391.27" y="811.60" font-size="25.3" textLength="93.59" lengthAdjust="spacingAndGlyphs" fill="#262626" >number</text>
<text x="790.50" y="811.60" font-size="25.3" textLength="89.84" lengthAdjust="spacingAndGlyphs" fill="#262626" >relative</text>
<text x="888.59" y="811.60" font-size="25.3" textLength="105.32" lengthAdjust="spacingAndGlyphs" fill="#262626" >segment</text>
<text x="1001.87" y="811.60" font-size="25.3" textLength="93.59" lengthAdjust="spacingAndGlyphs" fill="#262626" >number</text>
<text transform="translate(19.60,716.50) rotate(-90)" x="-0.72" y="0" font-size="25.3" textLength="93.45" lengthAdjust="spacingAndGlyphs" fill="#262626">success</text>
<text transform="translate(19.60,614.00) rotate(-90)" x="-1.80" y="0" font-size="25.3" textLength="127.05" lengthAdjust="spacingAndGlyphs" fill="#262626">probability</text>
<rect x="86.4" y="35.4" width="90.4" height="106.0" rx="3.5" fill="#fff" fill-opacity="0.8" stroke="#d6d6d6" stroke-width="1.0"/>
<text x="96.63" y="59.80" font-size="24.5" textLength="68.97" lengthAdjust="spacingAndGlyphs" fill="#262626" >agent</text>
<rect x="93.0" y="74.60" width="31.0" height="10.0" fill="#d55e00" fill-opacity="0.8"/>
<text x="137.87" y="85.55" font-size="16.7" textLength="32.57" lengthAdjust="spacingAndGlyphs" fill="#262626" >ADP</text>
<rect x="93.0" y="98.05" width="31.0" height="10.0" fill="#0173b2" fill-opacity="0.8"/>
<text x="137.78" y="108.70" font-size="16.7" textLength="28.85" lengthAdjust="spacingAndGlyphs" fill="#262626" >EFE</text>
<rect x="93.0" y="121.50" width="31.0" height="10.0" fill="#de8f05" fill-opacity="0.8"/>
<text x="137.49" y="131.80" font-size="16.7" textLength="15.48" lengthAdjust="spacingAndGlyphs" fill="#262626" >IV</text>
<rect x="1078.3" y="616.0" width="111.2" height="129.3" rx="3.5" fill="#fff" fill-opacity="0.8" stroke="#d6d6d6" stroke-width="1.0"/>
<text x="1099.13" y="639.80" font-size="24.5" textLength="69.18" lengthAdjust="spacingAndGlyphs" fill="#262626" >agent</text>
<line x1="1084.7" y1="660.20" x2="1117.3" y2="660.20" stroke="#d55e00" stroke-width="4.0" stroke-dasharray="4.00 6.60"/>
<circle cx="1101.0" cy="660.20" r="4.7" fill="#d55e00"/>
<text x="1130.37" y="666.00" font-size="16.7" textLength="31.95" lengthAdjust="spacingAndGlyphs" fill="#262626" >ADP</text>
<line x1="1084.7" y1="683.55" x2="1117.3" y2="683.55" stroke="#0173b2" stroke-width="4.0" stroke-dasharray="4.00 6.60"/>
<circle cx="1101.0" cy="683.55" r="4.7" fill="#0173b2"/>
<text x="1129.78" y="689.00" font-size="16.7" textLength="28.96" lengthAdjust="spacingAndGlyphs" fill="#262626" >EFE</text>
<line x1="1084.7" y1="706.90" x2="1117.3" y2="706.90" stroke="#de8f05" stroke-width="4.0" stroke-dasharray="4.00 6.60"/>
<circle cx="1101.0" cy="706.90" r="4.7" fill="#de8f05"/>
<text x="1129.48" y="712.60" font-size="16.7" textLength="15.60" lengthAdjust="spacingAndGlyphs" fill="#262626" >IV</text>
<line x1="1085.6" y1="730.20" x2="1116.8" y2="730.20" stroke="#808080" stroke-opacity="0.9" stroke-width="3.6" stroke-linecap="round"/>
<text x="1129.90" y="736.00" font-size="16.7" textLength="53.13" lengthAdjust="spacingAndGlyphs" fill="#262626" >subset</text>
</g>
</svg></body></html>
